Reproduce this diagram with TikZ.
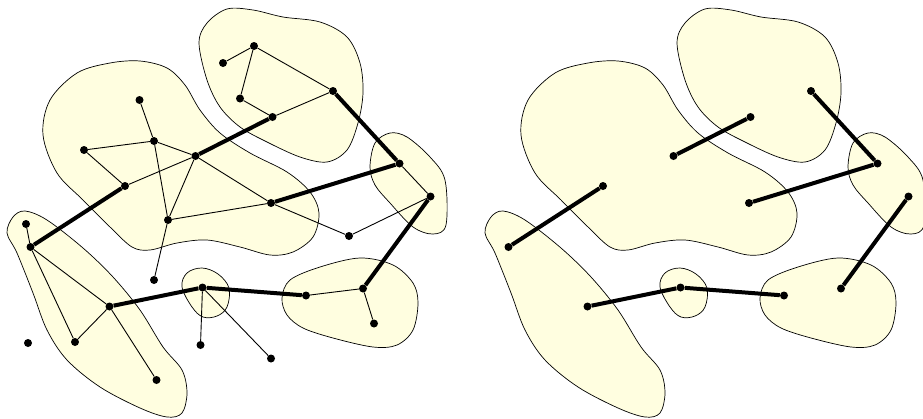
\documentclass[tikz,border=0pt]{standalone}
\usepackage{tikz}
\definecolor{blobfill}{RGB}{255,254,224}
\tikzset{
  blob/.style={draw=black, fill=blobfill, line width=0.7pt},
  vertex/.style={circle, fill=black, inner sep=0pt, minimum size=8pt},
  thinedge/.style={line width=0.9pt},
  thickedge/.style={line width=4pt}
}
\newcommand{\drawblobs}{%
  % big blob
  \draw[blob] plot[smooth cycle, tension=0.55] coordinates {
    (43,135) (50,100) (77,73) (110,63) (140,61) (167,68) (185,85) (200,110)
    (220,133) (250,153) (287,172) (310,192) (319,213) (313,237) (293,252)
    (270,255) (240,247) (207,240) (177,243) (150,250) (132,247) (110,227)
    (83,200) (57,173)};
  % top blob
  \draw[blob] plot[smooth cycle, tension=0.55] coordinates {
    (199,43) (207,23) (227,9) (253,10) (283,17) (320,22) (347,37) (360,63)
    (363,93) (358,123) (347,150) (327,162) (300,157) (267,142) (240,127)
    (220,107) (207,80)};
  % right blob
  \draw[blob] plot[smooth cycle, tension=0.55] coordinates {
    (370,167) (375,143) (390,133) (407,137) (430,157) (445,180) (446,225)
    (433,234) (413,227) (390,203) (375,185)};
  % lower right blob
  \draw[blob] plot[smooth cycle, tension=0.55] coordinates {
    (282,298) (290,280) (320,267) (360,258) (393,265) (413,283) (418,303)
    (413,330) (397,345) (373,347) (333,338) (303,328) (287,315)};
  % small blob
  \draw[blob] plot[smooth cycle, tension=0.6] coordinates {
    (182,287) (187,273) (202,268) (218,274) (229,288) (227,307) (217,316)
    (203,317) (192,307)};
  % lower left blob
  \draw[blob] plot[smooth cycle, tension=0.55] coordinates {
    (7,233) (13,217) (25,211) (47,220) (83,248) (113,277) (140,310) (163,347)
    (182,370) (187,393) (182,413) (167,417) (140,408) (100,387) (67,360)
    (47,330) (33,293) (17,253)};
}
\newcommand{\drawthick}{%
  \draw[thickedge] (b) -- (i);
  \draw[thickedge] (m) -- (o);
  \draw[thickedge] (s) -- (t) -- (n);
  \draw[thickedge] (u) -- (w);
  \draw[thickedge] (c) -- (z) -- (y);
}
\def\thickverts{b/30.5/247, c/109.5/306.5, i/125/186, m/195.5/156, o/272.5/117,
  s/333/91, t/399.5/163.5, n/271/203, u/430.5/196.5, w/363/288.5,
  y/306/295.5, z/202.5/287.5}
\def\thinverts{a/26/224, d/75/342, e/156.5/380, f/28/343, g/154/280,
  h/168/220, j/84/150, k/139.5/100, l/154/141, p/240/98.5, q/254/46,
  r/223/63, v/349/236, x/374/323.5, aa/200.5/345, bb/271/358.5}

\begin{document}
\begin{tikzpicture}[x=1pt, y=-1pt]
  \useasboundingbox (0,0) rectangle (923,418);

  % left panel: clusters with all vertices
  \drawblobs
  \foreach \n/\x/\y in \thickverts {\node[vertex] (\n) at (\x,\y) {};}
  \foreach \n/\x/\y in \thinverts {\node[vertex] (\n) at (\x,\y) {};}
  \foreach \s/\e in {a/b, b/c, b/d, c/d, c/e, j/l, j/i, k/l, l/m, l/h, i/m,
      m/h, m/n, h/n, g/h, n/v, v/u, t/u, q/r, q/p, q/s, p/o, o/s, y/w, w/x,
      z/aa, z/bb}
    \draw[thinedge] (\s) -- (\e);
  \drawthick

  % right panel: only the contracted edges
  \begin{scope}[shift={(478,0)}, name prefix=R]
    \drawblobs
    \foreach \n/\x/\y in \thickverts {\node[vertex] (\n) at (\x,\y) {};}
    \drawthick
  \end{scope}
\end{tikzpicture}
\end{document}
